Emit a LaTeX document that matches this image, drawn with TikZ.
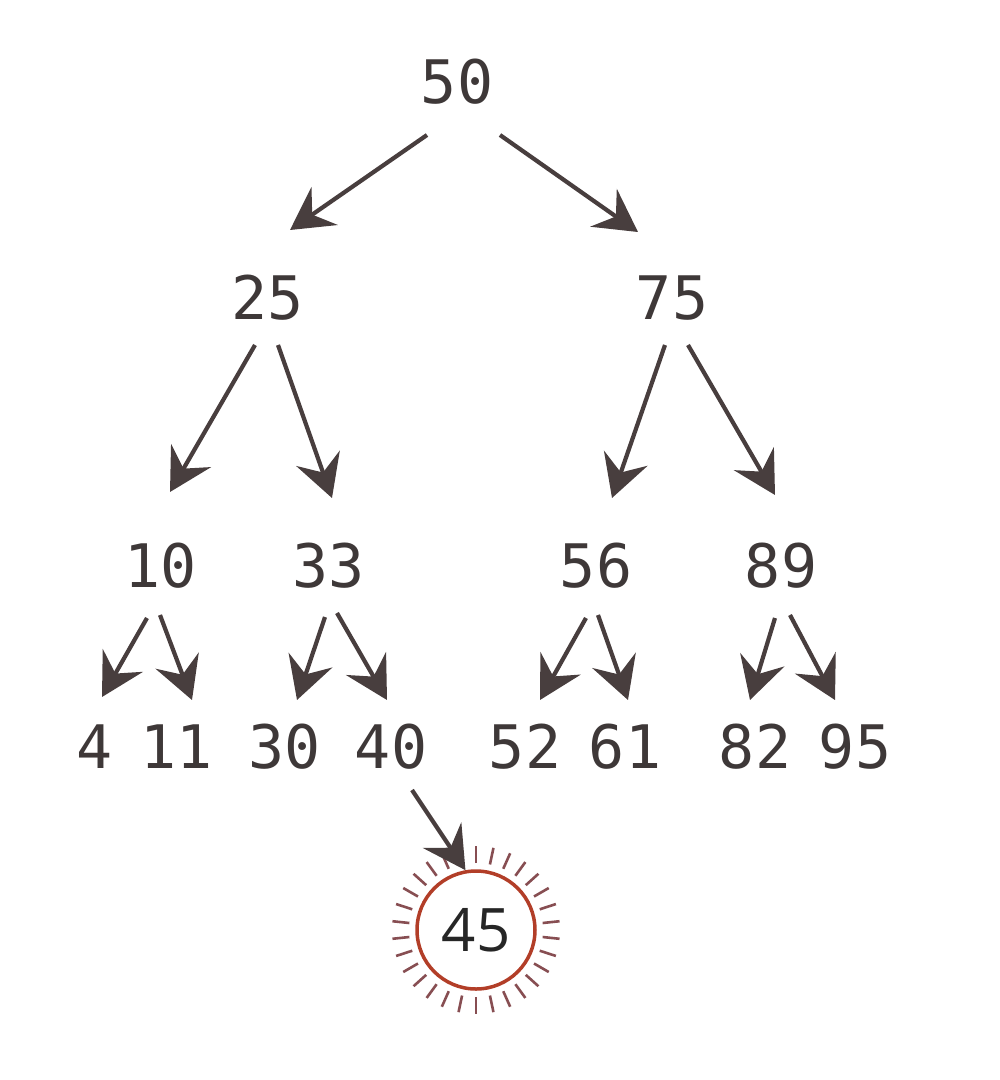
\documentclass[tikz,border=0pt]{standalone}
\usepackage{fontspec}
\setmonofont{DejaVu Sans Mono}
\setsansfont{Open Sans}
\usetikzlibrary{arrows.meta,calc}
\definecolor{txt}{RGB}{62,56,56}
\definecolor{arr}{RGB}{72,62,62}
\definecolor{ring}{RGB}{178,62,40}
\definecolor{raycol}{RGB}{135,78,82}
\begin{document}
\begin{tikzpicture}[x=1pt,y=-1pt,
  num/.style={font=\ttfamily\fontsize{60}{70}\selectfont, text=txt, inner sep=0pt},
  link/.style={draw=arr, line width=4.2pt, -{Stealth[length=42pt,width=46pt,inset=15pt]}},
  raystyle/.style={draw=raycol, line width=2.6pt}]
\useasboundingbox (0,0) rectangle (1000,1080);
% nodes
\node[num] (n50) at (457,82) {50};
\node[num] (n25) at (268,298) {25};
\node[num] (n75) at (672,298) {75};
\node[num] (n10) at (161,566) {10};
\node[num] (n33) at (329,566) {33};
\node[num] (n56) at (596,566) {56};
\node[num] (n89) at (781,566) {89};
\node[num] (n4) at (95,747) {4};
\node[num] (n11) at (177,747) {11};
\node[num] (n30) at (285,747) {30};
\node[num] (n40) at (391,747) {40};
\node[num] (n52) at (525,747) {52};
\node[num] (n61) at (625,747) {61};
\node[num] (n82) at (755,747) {82};
\node[num] (n95) at (855,747) {95};
\node[circle, draw=ring, line width=3.5pt, minimum size=118pt, inner sep=0pt,
      font=\sffamily\fontsize{60}{70}\selectfont, text=black!85] (n45) at (476,930) {45};
% rays
\foreach \a in {6,18,...,354}
  \draw[raystyle] ($(n45.center)+(\a:67)$) -- ($(n45.center)+(\a:84)$);
% connectors (start / end points relative to nodes)
\draw[link] ($(n50)+(-30,53)$) -- ($(n25)+(22,-68)$);
\draw[link] ($(n50)+(43,53)$) -- ($(n75)+(-34,-66)$);
\draw[link] ($(n25)+(-13,47)$) -- ($(n10)+(9,-74)$);
\draw[link] ($(n25)+(10,47)$) -- ($(n33)+(3,-68)$);
\draw[link] ($(n75)+(-7,47)$) -- ($(n56)+(16,-68)$);
\draw[link] ($(n75)+(16,47)$) -- ($(n89)+(-6,-71)$);
\draw[link] ($(n10)+(-14,52)$) -- ($(n4)+(7,-50)$);
\draw[link] ($(n10)+(-1,49)$) -- ($(n11)+(15,-47)$);
\draw[link] ($(n33)+(-4,51)$) -- ($(n30)+(12,-47)$);
\draw[link] ($(n33)+(8,47)$) -- ($(n40)+(-4,-47)$);
\draw[link] ($(n56)+(-10,52)$) -- ($(n52)+(15,-47)$);
\draw[link] ($(n56)+(2,49)$) -- ($(n61)+(3,-47)$);
\draw[link] ($(n89)+(-6,52)$) -- ($(n82)+(-5,-47)$);
\draw[link] ($(n89)+(9,49)$) -- ($(n95)+(-20,-47)$);
\draw[link] ($(n40)+(21,43)$) -- (n45.100);
\end{tikzpicture}
\end{document}
